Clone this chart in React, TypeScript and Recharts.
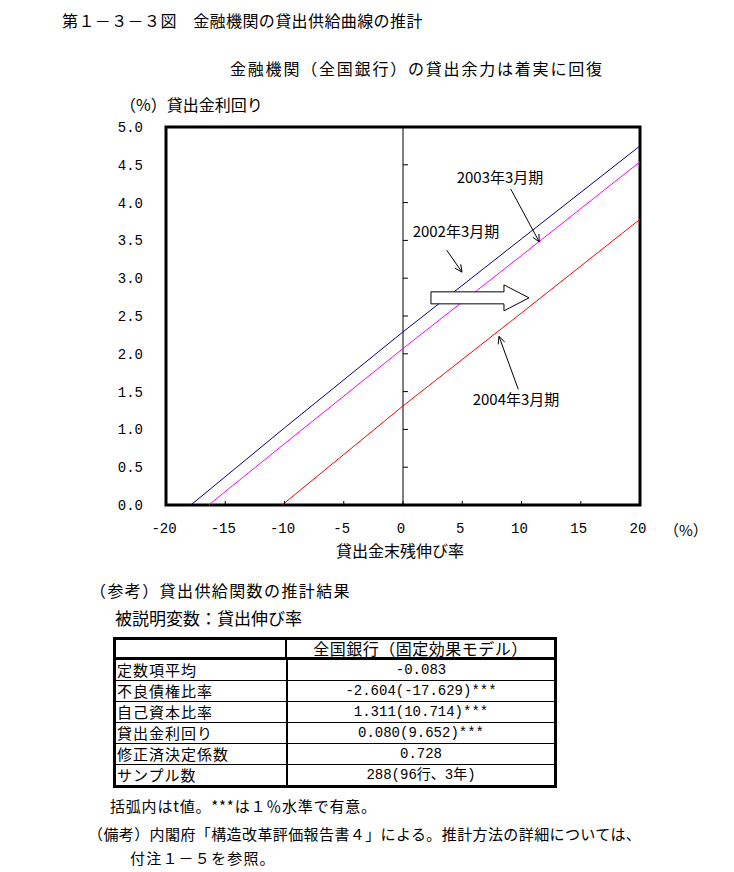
import { LineChart, Line, XAxis, YAxis, ReferenceLine, ReferenceArea, ReferenceDot } from "recharts";

// 横軸：貸出金末残伸び率（%）、縦軸：貸出金利回り（%）
const xTicks = [-20, -15, -10, -5, 0, 5, 10, 15, 20];
const yTicks = [0, 0.5, 1, 1.5, 2, 2.5, 3, 3.5, 4, 4.5, 5];

const growth2002 = [-17.9, -10, 0, 10, 20];
const rate2002 = [0, 1.02, 2.29, 3.52, 4.75];
const growth2003 = [-16.4, -10, 0, 10, 20];
const rate2003 = [0, 0.81, 2.07, 3.3, 4.54];
const growth2004 = [-10.2, 0, 10, 20];
const rate2004 = [0, 1.31, 2.54, 3.78];

const seriesNames = ["2002年3月期", "2003年3月期", "2004年3月期"];
const COLORS = ["#000080", "#FF00FF", "#FF0000"];

// 推計結果の表
const tableHeader = "全国銀行（固定効果モデル）";
const tableRows = ["定数項平均", "不良債権比率", "自己資本比率", "貸出金利回り", "修正済決定係数", "サンプル数"];
const tableValues = ["-0.083", "-2.604(-17.629)***", "1.311(10.714)***", "0.080(9.652)***", "0.728", "288(96行、3年)"];

const toPoints = (xs: number[], ys: number[]) => xs.map((x, i) => ({ x, y: ys[i] }));
const seriesData = [
  toPoints(growth2002, rate2002),
  toPoints(growth2003, rate2003),
  toPoints(growth2004, rate2004),
];

// annotation placement (chart coordinates)
const notes = [
  { text: seriesNames[0], tx: 4.47, ty: 3.61, from: [3.69, 3.37], to: [4.98, 3.08] },
  { text: seriesNames[1], tx: 8.19, ty: 4.33, from: [9.09, 4.18], to: [11.5, 3.48] },
  { text: seriesNames[2], tx: 9.54, ty: 1.39, from: [9.73, 1.53], to: [8.1, 2.23] },
];
const shiftArrow = { y: 2.74, from: 2.36, to: 10.63 };

const JP = '"Noto Sans CJK JP", "Noto Sans CJK SC", sans-serif';
const MONO = '"Liberation Mono", "DejaVu Sans Mono", monospace';

const Txt = ({ x, y, size = 16, center = false, children, style = {} }: any) => (
  <div
    style={{
      position: "absolute",
      left: x,
      top: y - size / 2,
      transform: center ? "translateX(-50%)" : undefined,
      fontFamily: JP,
      fontSize: size,
      lineHeight: `${size}px`,
      whiteSpace: "nowrap",
      color: "#000",
      ...style,
    }}
  >
    {children}
  </div>
);

const ArrowLine = (p: any) => {
  const { x1, y1, x2, y2 } = p;
  const a = Math.atan2(y2 - y1, x2 - x1);
  const L = 8;
  const s = 0.45;
  return (
    <g stroke="#000" strokeWidth={1} fill="none">
      <line x1={x1} y1={y1} x2={x2} y2={y2} />
      <line x1={x2} y1={y2} x2={x2 - L * Math.cos(a - s)} y2={y2 - L * Math.sin(a - s)} />
      <line x1={x2} y1={y2} x2={x2 - L * Math.cos(a + s)} y2={y2 - L * Math.sin(a + s)} />
    </g>
  );
};

const BlockArrow = (p: any) => {
  const { x1, y1, x2 } = p;
  const bh = 6;
  const hh = 13;
  const hl = 25;
  const pts = [
    [x1, y1 - bh],
    [x2 - hl, y1 - bh],
    [x2 - hl, y1 - hh],
    [x2, y1],
    [x2 - hl, y1 + hh],
    [x2 - hl, y1 + bh],
    [x1, y1 + bh],
  ]
    .map((q) => q.join(","))
    .join(" ");
  return <polygon points={pts} fill="#fff" stroke="#000" strokeWidth={1} />;
};

const XTick = (p: any) => {
  const { x, y, payload } = p;
  return (
    <g>
      <line x1={x} x2={x} y1={y - 18} y2={y - 22} stroke="#000" />
      <text x={x - 2} y={y} dy="0.71em" textAnchor="middle" fontFamily={MONO} fontSize={14} fill="#000">
        {payload.value}
      </text>
    </g>
  );
};

const App = () => {
  return (
    <div style={{ position: "absolute", left: 0, top: 0, width: 734, height: 872, background: "#fff" }}>
      <Txt x={62} y={20} size={16} style={{ letterSpacing: 0.4 }}>第１－３－３図　金融機関の貸出供給曲線の推計</Txt>
      <Txt x={230} y={68} size={16} style={{ letterSpacing: 1.8 }}>金融機関（全国銀行）の貸出余力は着実に回復</Txt>
      <Txt x={120} y={104} size={16}>（%）貸出金利回り</Txt>

      <div style={{ position: "absolute", left: 0, top: 0 }}>
        <LineChart width={734} height={560} margin={{ top: 127, right: 94, bottom: 25, left: 106 }}>
          <XAxis
            type="number"
            dataKey="x"
            domain={[-20, 20]}
            ticks={xTicks}
            interval={0}
            axisLine={false}
            tickLine={false}
            tickSize={0}
            tickMargin={18}
            height={30}
            tick={<XTick />}
          />
          <YAxis
            type="number"
            domain={[0, 5]}
            ticks={yTicks}
            interval={0}
            axisLine={false}
            tickLine={false}
            tickSize={0}
            tickMargin={23}
            width={60}
            tickFormatter={(v: number) => v.toFixed(1)}
            tick={{ fontFamily: MONO, fontSize: 14, fill: "#000" }}
          />
          <ReferenceLine x={0} stroke="#000" strokeWidth={1} />
          {yTicks.map((v) => (
            <ReferenceLine
              key={`yt-${v}`}
              segment={[
                { x: 0, y: v },
                { x: 0.42, y: v },
              ]}
              stroke="#000"
              strokeWidth={1}
            />
          ))}
          {seriesData.map((d, i) => (
            <Line
              key={seriesNames[i]}
              data={d}
              dataKey="y"
              name={seriesNames[i]}
              type="linear"
              stroke={COLORS[i]}
              strokeWidth={1}
              dot={false}
              activeDot={false}
              isAnimationActive={false}
            />
          ))}
          <ReferenceLine
            segment={[
              { x: shiftArrow.from, y: shiftArrow.y },
              { x: shiftArrow.to, y: shiftArrow.y },
            ]}
            shape={BlockArrow}
          />
          {notes.map((n) => (
            <ReferenceLine
              key={`arrow-${n.text}`}
              segment={[
                { x: n.from[0], y: n.from[1] },
                { x: n.to[0], y: n.to[1] },
              ]}
              shape={ArrowLine}
            />
          ))}
          {notes.map((n) => (
            <ReferenceDot
              key={`lbl-${n.text}`}
              x={n.tx}
              y={n.ty}
              r={0}
              shape={(p: any) => (
                <text x={p.cx} y={p.cy} dy="0.36em" textAnchor="middle" fontFamily={JP} fontSize={15} fill="#000">
                  {n.text}
                </text>
              )}
            />
          ))}
          <ReferenceArea x1={-20} x2={20} y1={0} y2={5} fill="none" fillOpacity={0} stroke="#000" strokeWidth={3} />
        </LineChart>
      </div>

      <Txt x={664} y={529} size={15}>（%）</Txt>
      <Txt x={400} y={550} size={16} center>貸出金末残伸び率</Txt>

      <Txt x={90} y={590} size={16} style={{ letterSpacing: 1.4 }}>（参考）貸出供給関数の推計結果</Txt>
      <Txt x={115} y={617} size={17}>被説明変数：貸出伸び率</Txt>

      <div
        style={{
          position: "absolute",
          left: 113,
          top: 637,
          width: 444,
          border: "3px solid #000",
          boxSizing: "border-box",
          fontFamily: JP,
          fontSize: 15,
          color: "#000",
        }}
      >
        <div style={{ display: "flex", height: 17, borderBottom: "3px solid #000", lineHeight: "17px" }}>
          <div style={{ width: 169, borderRight: "2px solid #000" }} />
          <div style={{ flex: 1, textAlign: "center", whiteSpace: "nowrap", fontSize: 16, letterSpacing: 0.5 }}>{tableHeader}</div>
        </div>
        {tableRows.map((r, i) => (
          <div
            key={r}
            style={{
              display: "flex",
              height: 20,
              lineHeight: "20px",
              borderBottom: i < tableRows.length - 1 ? "1px solid #000" : "none",
            }}
          >
            <div style={{ width: 169, borderRight: "2px solid #000", paddingLeft: 1, whiteSpace: "nowrap", letterSpacing: 1 }}>{r}</div>
            <div style={{ flex: 1, textAlign: "center", whiteSpace: "nowrap", fontFamily: `${MONO.split(",")[0]}, ${JP}`, fontSize: 14 }}>
              {tableValues[i]}
            </div>
          </div>
        ))}
      </div>

      <Txt x={110} y={805} size={15} style={{ letterSpacing: 0.8 }}>括弧内はt値。***は１％水準で有意。</Txt>
      <Txt x={88} y={833} size={15} style={{ letterSpacing: 0.4 }}>（備考）内閣府「構造改革評価報告書４」による。推計方法の詳細については、</Txt>
      <Txt x={130} y={857} size={15} style={{ letterSpacing: 1.2 }}>付注１－５を参照。</Txt>
    </div>
  );
};

export default App;
